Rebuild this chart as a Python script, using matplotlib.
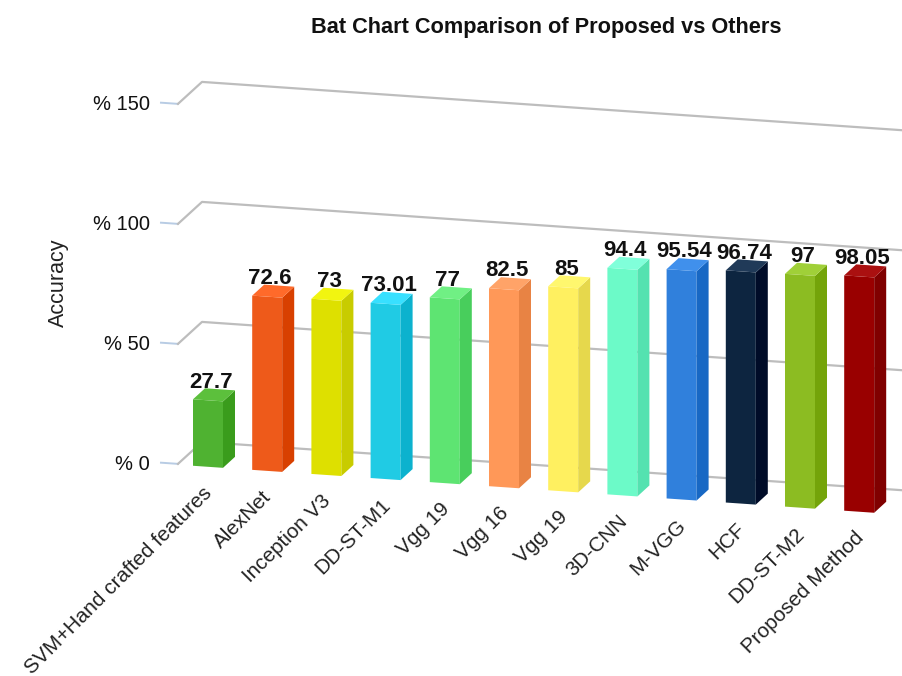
import matplotlib
matplotlib.use("Agg")
import matplotlib.pyplot as plt
from matplotlib.patches import Polygon
from matplotlib.transforms import Affine2D

plt.rcParams['font.family'] = ['Liberation Sans', 'DejaVu Sans']

categories = ["SVM+Hand crafted features", "AlexNet", "Inception V3", "DD-ST-M1", "Vgg 19", "Vgg 16",
              "Vgg 19", "3D-CNN", "M-VGG", "HCF", "DD-ST-M2", "Proposed Method"]
values = [27.7, 72.6, 73, 73.01, 77, 82.5, 85, 94.4, 95.54, 96.74, 97, 98.05]
value_labels = ["27.7", "72.6", "73", "73.01", "77", "82.5", "85", "94.4", "95.54", "96.74", "97", "98.05"]
y_ticks = [0, 50, 100, 150]

front_colors = ["#4FB231", "#EE5A1A", "#DEE000", "#20CBE4", "#5EE472", "#FF9858",
                "#FFF060", "#6CFAC8", "#3080DC", "#0D2540", "#8CBC22", "#990000"]
side_colors = ["#3A9C1C", "#D84000", "#C8CC00", "#0CB2CE", "#48CE5C", "#E88344",
               "#E6D84C", "#54E2B0", "#1868C4", "#000C28", "#74A40A", "#800000"]
top_colors = ["#5CC03C", "#FF6A2A", "#F2F510", "#38E0FF", "#70F084", "#FFA368",
              "#FFF76E", "#80FFDA", "#4090EC", "#203A58", "#A0D038", "#AA1010"]

# picture geometry: one category = 59.2 px, one percent = 2.40 px
W, H = 902, 676
STEP = 59.2
UNIT = 2.40
X0 = 208
Y0 = 466.8
SLOPE = 0.069 * STEP / UNIT  # baseline falls to the right
BAR_W = 30 / STEP
DEPTH_X = 12 / STEP
DEPTH_Y = 11 / UNIT + SLOPE * DEPTH_X
GRID_DEPTH = 10.2

fig = plt.figure(figsize=(W / 100, H / 100), dpi=100)
ax = fig.add_axes([0, 0, 1, 1])
ax.axis("off")
shear = Affine2D.from_values(1, -SLOPE, 0, 1, 0, 0) + ax.transData

x_pos = list(range(len(values)))

# floor/wall lines
right_x = (W - X0) / STEP + 0.5
for v in y_ticks:
    ax.plot([-0.794, -0.507], [v + 0.36, v + 0.36], color="#B8CCE4", lw=1.4, transform=shear, zorder=1)
    ax.plot([-0.507, -0.101, right_x], [v + 0.36, v + GRID_DEPTH, v + GRID_DEPTH], color="#BDBDBD", lw=1.6,
            transform=shear, zorder=1)
    ax.text(-0.98, v - 0.9, "%% %d" % v, ha="right", va="center", fontsize=14.5, color="#111111", transform=shear)

# bars
ax.bar(x_pos, values, width=BAR_W, color=front_colors, transform=shear, zorder=3)
for i, v in enumerate(values):
    l = i - BAR_W / 2
    r = i + BAR_W / 2
    side = [(r, 0), (r + DEPTH_X, DEPTH_Y), (r + DEPTH_X, v + DEPTH_Y), (r, v)]
    top = [(l, v), (r, v), (r + DEPTH_X, v + DEPTH_Y), (l + DEPTH_X, v + DEPTH_Y)]
    ax.add_patch(Polygon(side, color=side_colors[i], lw=0, transform=shear, zorder=3))
    ax.add_patch(Polygon(top, color=top_colors[i], lw=0, transform=shear, zorder=3))
    ax.text(i + 0.05, v + 7.7, value_labels[i], ha="center", va="center", fontsize=16, fontweight="bold",
            color="#111111", transform=shear, zorder=4)
    ax.text(i - 0.09, -7.0, categories[i], ha="right", va="top", rotation=45, rotation_mode="anchor",
            fontsize=14.9, color="#222222", transform=shear)

ax.set_xlim(-X0 / STEP, (W - X0) / STEP)
ax.set_ylim((Y0 - H) / UNIT, Y0 / UNIT)

fig.text(546 / W, 1 - 27 / H, "Bat Chart Comparison of Proposed vs Others", ha="center", va="center",
         fontsize=15.7, fontweight="bold", color="#111111")
fig.text(58 / W, 1 - 283 / H, "Accuracy", ha="center", va="center", rotation=90, fontsize=15.5, color="#222222")

fig.savefig("out.png", dpi=100)
